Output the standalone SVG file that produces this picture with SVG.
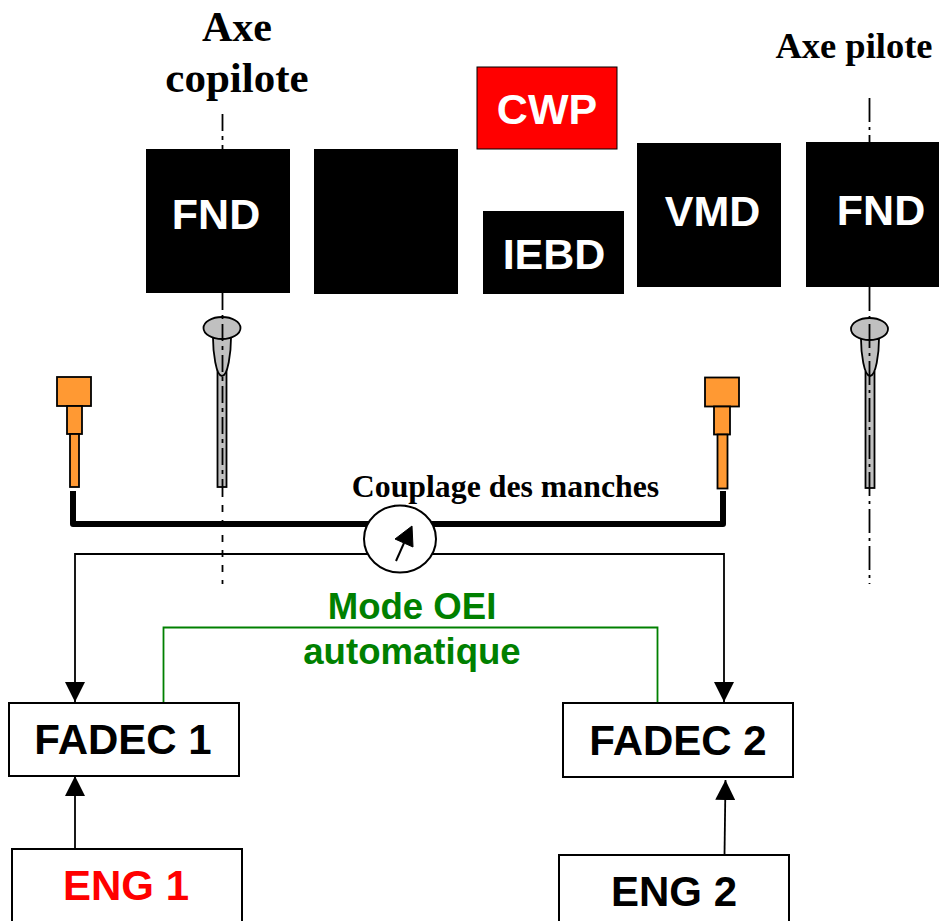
<svg xmlns="http://www.w3.org/2000/svg" width="939" height="921" viewBox="0 0 939 921">
<style>
.blk{fill:#000}
.bw{font:bold 43px "Liberation Sans",Arial,sans-serif;fill:#fff;text-anchor:middle}
.box{fill:#fff;stroke:#000;stroke-width:2}
.bb{font:bold 42px "Liberation Sans",Arial,sans-serif;fill:#000;text-anchor:middle}
.ser{font-family:"Liberation Serif","Times New Roman",serif;font-weight:bold;fill:#000;text-anchor:middle}
.or{fill:#ff9933;stroke:#000;stroke-width:1.8}
.gr{fill:#c0c0c0;stroke:#000;stroke-width:1.8}
.ax{fill:none;stroke:#000;stroke-width:1.8;stroke-dasharray:24 5 3 5}
.axl{fill:none;stroke:#000;stroke-width:1.8;stroke-dasharray:17 5 4 5}
.axs{fill:none;stroke:#000;stroke-width:1.8;stroke-dasharray:7 8}
.ln{fill:none;stroke:#000;stroke-width:1.8}
.gl{font:bold 36.600px "Liberation Sans",Arial,sans-serif;fill:#008000;text-anchor:middle}
</style>
<defs>
<marker id="ah" markerUnits="userSpaceOnUse" markerWidth="22" markerHeight="20" refX="20" refY="10" orient="auto"><path d="M0 0L20 10L0 20Z" fill="#000"/></marker>
</defs>
<g id="title-copilote"><text class="ser" font-size="42" x="237" y="41">Axe</text><text class="ser" font-size="43" x="237" y="92">copilote</text></g>
<g id="title-pilote"><text class="ser" font-size="36.500" x="854" y="58">Axe pilote</text></g>
<g id="cwp"><rect x="477" y="67" width="140" height="82" fill="#ff0000" stroke="#000" stroke-width="1"/><text class="bw" x="547" y="124">CWP</text></g>
<g id="fnd-copilote"><rect class="blk" x="146" y="149" width="144" height="144"/><text class="bw" x="216" y="229">FND</text></g>
<g id="blank-screen"><rect class="blk" x="314" y="149" width="144" height="145"/></g>
<g id="iebd"><rect class="blk" x="483" y="211" width="141" height="83"/><text class="bw" x="554" y="269">IEBD</text></g>
<g id="vmd"><rect class="blk" x="637" y="143" width="144" height="144"/><text class="bw" x="712.500" y="226">VMD</text></g>
<g id="fnd-pilote"><rect class="blk" x="806" y="142" width="144" height="145"/><text class="bw" x="881" y="225">FND</text></g>
<g id="stick-copilote">
<rect class="gr" x="217.500" y="370" width="9" height="117"/>
<path class="gr" d="M213 338C213 352 216 376 222 376C228 376 231 352 231 338Z"/>
<ellipse class="gr" cx="222" cy="328" rx="18.500" ry="11"/>
</g>
<g id="stick-pilote">
<rect class="gr" x="865.500" y="372" width="9" height="116"/>
<path class="gr" d="M861 339C861 353 864 376 870 376C876 376 879 353 879 339Z"/>
<ellipse class="gr" cx="869.500" cy="329" rx="18.500" ry="11"/>
</g>
<g id="trim-left">
<rect class="or" x="57" y="377" width="34" height="29"/><rect class="or" x="67" y="406" width="15" height="28"/><rect class="or" x="70" y="434" width="9" height="53"/>
</g>
<g id="trim-right">
<rect class="or" x="705" y="377.500" width="34" height="29" stroke-width="2"/><rect class="or" x="714" y="406.500" width="16" height="28"/><rect class="or" x="717.500" y="434.500" width="10" height="54"/>
</g>
<g id="connectors">
<path class="axl" d="M222.500 114V149"/>
<path class="axl" d="M222.500 293V490"/>
<path class="axs" d="M222.500 490V584"/>
<path class="ax" d="M869.500 98V142"/>
<path class="ax" d="M869.500 287V584"/>
<path d="M73 491V524H723V491" fill="none" stroke="#000" stroke-width="6" stroke-linejoin="round"/>
<path class="ln" d="M400 554H75V702" marker-end="url(#ah)"/>
<path class="ln" d="M400 554H724V702" marker-end="url(#ah)"/>
<path d="M163.500 703V627.500H657.500V703" fill="none" stroke="#008000" stroke-width="1.800"/>
<path class="ln" d="M75 850V776" marker-end="url(#ah)"/>
<path class="ln" d="M724.500 855L725.500 780" marker-end="url(#ah)"/>
</g>
<g id="coupling">
<ellipse cx="400" cy="539" rx="36" ry="33.500" fill="#fff" stroke="#000" stroke-width="2"/>
<path d="M396 561L404 543" stroke="#000" stroke-width="2" fill="none"/>
<path d="M412 526L395 539L413 547Z" fill="#000" stroke="#000"/>
</g>
<g id="label-couplage"><text class="ser" font-size="31.800" x="505.500" y="497">Couplage des manches</text></g>
<g id="label-oei"><text class="gl" x="412" y="619">Mode OEI</text><text class="gl" x="412" y="664">automatique</text></g>
<g id="fadec1"><rect class="box" x="9" y="703" width="230" height="73"/><text class="bb" x="123" y="754">FADEC 1</text></g>
<g id="fadec2"><rect class="box" x="563" y="703" width="230" height="74"/><text class="bb" x="678" y="755">FADEC 2</text></g>
<g id="eng1"><rect class="box" x="12" y="849" width="230" height="80"/><text class="bb" x="126" y="900" style="fill:#ff0000">ENG 1</text></g>
<g id="eng2"><rect class="box" x="559" y="855" width="230" height="74"/><text class="bb" x="674" y="906">ENG 2</text></g>
</svg>
